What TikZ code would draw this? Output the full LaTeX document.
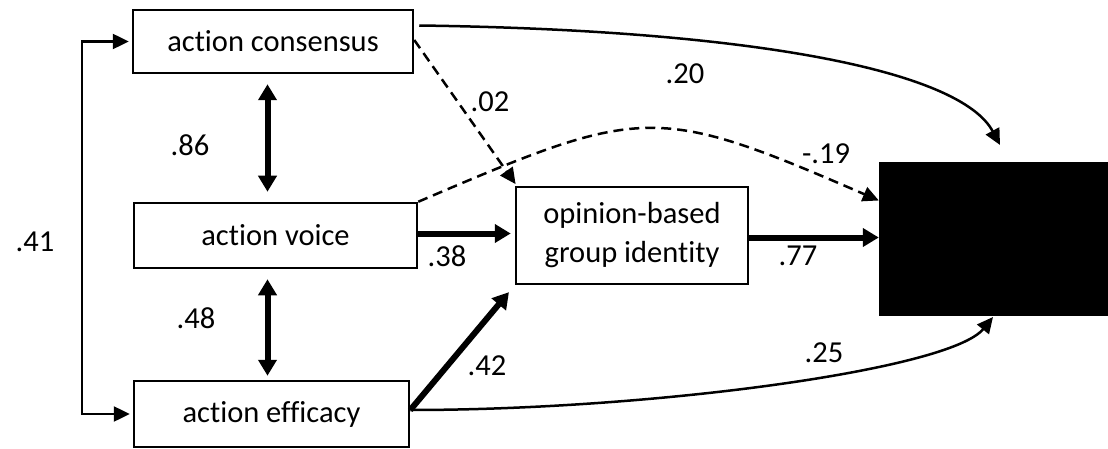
\documentclass[tikz,border=0pt]{standalone}
\usepackage{fontspec}
\setmainfont{Carlito}[Ligatures=NoCommon,Contextuals=NoAlternate]
\usetikzlibrary{arrows.meta,calc}
\begin{document}
\begin{tikzpicture}[x=1pt,y=-1pt,
  box/.style={draw,line width=2.5pt,rectangle,inner sep=0pt,font=\fontsize{30.5}{39}\selectfont,align=center},
  lbl/.style={font=\fontsize{30.5}{34}\selectfont,inner sep=0pt},
  thinarr/.style={line width=2.5pt,-{Triangle[length=16pt,width=15pt]}},
  thickarr/.style={line width=6pt,-{Triangle[length=16pt,width=18pt]}},
  dblarr/.style={line width=6pt,{Triangle[length=16pt,width=18pt]}-{Triangle[length=16pt,width=18pt]}},
  dasharr/.style={line width=2.5pt,dash pattern=on 10pt off 6pt,-{Triangle[length=16pt,width=15pt]}}
]
\useasboundingbox (0,0) rectangle (1108,449);
\node[box,minimum width=280pt,minimum height=63pt] (cons) at (273,41.5) {action consensus};
\node[box,minimum width=283pt,minimum height=65pt] (voice) at (275.5,235.5) {action voice};
\node[box,minimum width=275pt,minimum height=66pt] (eff) at (271.5,414) {action efficacy};
\node[box,minimum width=232pt,minimum height=97pt] (obgi) at (632,235.5) {opinion-based\\group identity};
\node[fill=black,draw=black,inner sep=0pt,minimum width=232pt,minimum height=153pt] (blk) at (995,238.5) {};
\coordinate (lx) at (82,0);
% .41 bracket
\draw[line width=2.5pt,{Triangle[length=16pt,width=15pt]}-{Triangle[length=16pt,width=15pt]},shorten <=3pt,shorten >=3pt]
  (cons.west) -- (lx |- cons.west) -- (lx |- eff.west) -- (eff.west);
% correlations
\draw[dblarr,shorten <=10pt,shorten >=10pt] ([xshift=-8pt]voice.north |- cons.south) -- ([xshift=-8pt]voice.north);
\draw[dblarr,shorten <=10pt,shorten >=4pt] ([xshift=-8pt]voice.south) -- ([xshift=-8pt]voice.south |- eff.north);
% paths to obgi
\draw[thickarr,shorten >=4pt] ([yshift=2pt]voice.east) -- ([yshift=2pt]voice.east -| obgi.west);
\draw[thickarr,shorten >=9pt] ([yshift=4pt]eff.east) -- (obgi.south west);
\draw[dasharr,shorten >=2pt] ([yshift=1.5pt]cons.east) -- ([xshift=2pt]obgi.north west);
% paths to outcome
\draw[thickarr] ([yshift=-2pt]obgi.east) -- ([yshift=-2pt]obgi.east -| blk.west);
\coordinate (t1) at (1000,145);
\coordinate (t3) at (993,317);
\draw[thinarr] ([yshift=16pt,xshift=5pt]cons.east) .. controls (750,30) and (960,70) .. (t1);
\draw[dasharr] (voice.north east) .. controls (642,106) and (654,103) .. ([yshift=38pt]blk.west);
\draw[thinarr] ([yshift=4pt]eff.east) .. controls (650,410) and (950,370) .. (t3);
% labels
\node[lbl] (l41) at (35,242) {.41};
\node[lbl] (l86) at (190,145) {.86};
\node[lbl] (l48) at (196,318) {.48};
\node[lbl] (l02) at (490,102) {.02};
\node[lbl] (l20) at (685,74) {.20};
\node[lbl] (l19) at (826,154) {-.19};
\node[lbl] (l38) at (447,256) {.38};
\node[lbl] (l77) at (798,256) {.77};
\node[lbl] (l42) at (487,366) {.42};
\node[lbl] (l25) at (824,353) {.25};
\end{tikzpicture}
\end{document}
